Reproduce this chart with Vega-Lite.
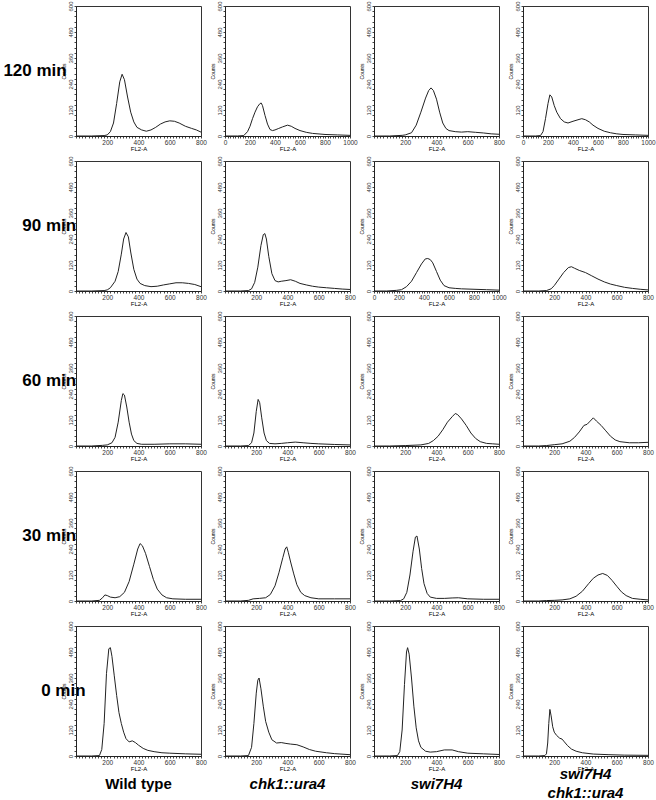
{
  "$schema": "https://vega.github.io/schema/vega-lite/v6.json",
  "padding": {"left": 3, "top": 0, "right": 0, "bottom": 0},
  "background": "white",
  "datasets": {
    "h": [
      {"t":"120 min","g":"Wild type","x":0,"y":0},{"t":"120 min","g":"Wild type","x":100,"y":0},{"t":"120 min","g":"Wild type","x":180,"y":2},{"t":"120 min","g":"Wild type","x":200,"y":5},{"t":"120 min","g":"Wild type","x":220,"y":20},{"t":"120 min","g":"Wild type","x":240,"y":60},{"t":"120 min","g":"Wild type","x":260,"y":150},{"t":"120 min","g":"Wild type","x":280,"y":250},{"t":"120 min","g":"Wild type","x":295,"y":285},{"t":"120 min","g":"Wild type","x":310,"y":260},{"t":"120 min","g":"Wild type","x":330,"y":180},{"t":"120 min","g":"Wild type","x":350,"y":110},{"t":"120 min","g":"Wild type","x":370,"y":65},{"t":"120 min","g":"Wild type","x":390,"y":40},{"t":"120 min","g":"Wild type","x":420,"y":28},{"t":"120 min","g":"Wild type","x":450,"y":22},{"t":"120 min","g":"Wild type","x":480,"y":28},{"t":"120 min","g":"Wild type","x":510,"y":40},{"t":"120 min","g":"Wild type","x":540,"y":55},{"t":"120 min","g":"Wild type","x":570,"y":65},{"t":"120 min","g":"Wild type","x":600,"y":70},{"t":"120 min","g":"Wild type","x":630,"y":68},{"t":"120 min","g":"Wild type","x":660,"y":60},{"t":"120 min","g":"Wild type","x":700,"y":45},{"t":"120 min","g":"Wild type","x":740,"y":35},{"t":"120 min","g":"Wild type","x":770,"y":28},{"t":"120 min","g":"Wild type","x":800,"y":18},

      {"t":"120 min","g":"chk1::ura4","x":0,"y":0},{"t":"120 min","g":"chk1::ura4","x":100,"y":0},{"t":"120 min","g":"chk1::ura4","x":150,"y":2},{"t":"120 min","g":"chk1::ura4","x":180,"y":20},{"t":"120 min","g":"chk1::ura4","x":200,"y":45},{"t":"120 min","g":"chk1::ura4","x":220,"y":80},{"t":"120 min","g":"chk1::ura4","x":240,"y":110},{"t":"120 min","g":"chk1::ura4","x":260,"y":135},{"t":"120 min","g":"chk1::ura4","x":280,"y":150},{"t":"120 min","g":"chk1::ura4","x":290,"y":152},{"t":"120 min","g":"chk1::ura4","x":300,"y":140},{"t":"120 min","g":"chk1::ura4","x":320,"y":95},{"t":"120 min","g":"chk1::ura4","x":340,"y":55},{"t":"120 min","g":"chk1::ura4","x":360,"y":30},{"t":"120 min","g":"chk1::ura4","x":380,"y":25},{"t":"120 min","g":"chk1::ura4","x":400,"y":28},{"t":"120 min","g":"chk1::ura4","x":430,"y":35},{"t":"120 min","g":"chk1::ura4","x":460,"y":42},{"t":"120 min","g":"chk1::ura4","x":500,"y":50},{"t":"120 min","g":"chk1::ura4","x":530,"y":45},{"t":"120 min","g":"chk1::ura4","x":560,"y":35},{"t":"120 min","g":"chk1::ura4","x":600,"y":25},{"t":"120 min","g":"chk1::ura4","x":650,"y":17},{"t":"120 min","g":"chk1::ura4","x":700,"y":12},{"t":"120 min","g":"chk1::ura4","x":800,"y":7},{"t":"120 min","g":"chk1::ura4","x":900,"y":5},{"t":"120 min","g":"chk1::ura4","x":1000,"y":3},

      {"t":"120 min","g":"swi7H4","x":0,"y":0},{"t":"120 min","g":"swi7H4","x":100,"y":0},{"t":"120 min","g":"swi7H4","x":180,"y":3},{"t":"120 min","g":"swi7H4","x":200,"y":5},{"t":"120 min","g":"swi7H4","x":240,"y":15},{"t":"120 min","g":"swi7H4","x":270,"y":50},{"t":"120 min","g":"swi7H4","x":300,"y":110},{"t":"120 min","g":"swi7H4","x":330,"y":175},{"t":"120 min","g":"swi7H4","x":350,"y":210},{"t":"120 min","g":"swi7H4","x":365,"y":222},{"t":"120 min","g":"swi7H4","x":380,"y":210},{"t":"120 min","g":"swi7H4","x":400,"y":170},{"t":"120 min","g":"swi7H4","x":420,"y":110},{"t":"120 min","g":"swi7H4","x":440,"y":60},{"t":"120 min","g":"swi7H4","x":460,"y":35},{"t":"120 min","g":"swi7H4","x":480,"y":25},{"t":"120 min","g":"swi7H4","x":520,"y":20},{"t":"120 min","g":"swi7H4","x":560,"y":18},{"t":"120 min","g":"swi7H4","x":600,"y":20},{"t":"120 min","g":"swi7H4","x":650,"y":17},{"t":"120 min","g":"swi7H4","x":700,"y":14},{"t":"120 min","g":"swi7H4","x":750,"y":10},{"t":"120 min","g":"swi7H4","x":800,"y":8},

      {"t":"120 min","g":"swi7H4 chk1::ura4","x":0,"y":0},{"t":"120 min","g":"swi7H4 chk1::ura4","x":100,"y":0},{"t":"120 min","g":"swi7H4 chk1::ura4","x":140,"y":2},{"t":"120 min","g":"swi7H4 chk1::ura4","x":160,"y":20},{"t":"120 min","g":"swi7H4 chk1::ura4","x":180,"y":80},{"t":"120 min","g":"swi7H4 chk1::ura4","x":200,"y":150},{"t":"120 min","g":"swi7H4 chk1::ura4","x":215,"y":190},{"t":"120 min","g":"swi7H4 chk1::ura4","x":230,"y":180},{"t":"120 min","g":"swi7H4 chk1::ura4","x":250,"y":140},{"t":"120 min","g":"swi7H4 chk1::ura4","x":270,"y":110},{"t":"120 min","g":"swi7H4 chk1::ura4","x":300,"y":80},{"t":"120 min","g":"swi7H4 chk1::ura4","x":330,"y":65},{"t":"120 min","g":"swi7H4 chk1::ura4","x":360,"y":60},{"t":"120 min","g":"swi7H4 chk1::ura4","x":400,"y":68},{"t":"120 min","g":"swi7H4 chk1::ura4","x":440,"y":75},{"t":"120 min","g":"swi7H4 chk1::ura4","x":470,"y":80},{"t":"120 min","g":"swi7H4 chk1::ura4","x":500,"y":75},{"t":"120 min","g":"swi7H4 chk1::ura4","x":530,"y":65},{"t":"120 min","g":"swi7H4 chk1::ura4","x":560,"y":50},{"t":"120 min","g":"swi7H4 chk1::ura4","x":600,"y":35},{"t":"120 min","g":"swi7H4 chk1::ura4","x":650,"y":22},{"t":"120 min","g":"swi7H4 chk1::ura4","x":700,"y":15},{"t":"120 min","g":"swi7H4 chk1::ura4","x":750,"y":10},{"t":"120 min","g":"swi7H4 chk1::ura4","x":800,"y":7},{"t":"120 min","g":"swi7H4 chk1::ura4","x":900,"y":5},{"t":"120 min","g":"swi7H4 chk1::ura4","x":1000,"y":3},

      {"t":"90 min","g":"Wild type","x":0,"y":0},{"t":"90 min","g":"Wild type","x":100,"y":0},{"t":"90 min","g":"Wild type","x":180,"y":2},{"t":"90 min","g":"Wild type","x":200,"y":5},{"t":"90 min","g":"Wild type","x":220,"y":15},{"t":"90 min","g":"Wild type","x":250,"y":45},{"t":"90 min","g":"Wild type","x":270,"y":90},{"t":"90 min","g":"Wild type","x":290,"y":170},{"t":"90 min","g":"Wild type","x":305,"y":240},{"t":"90 min","g":"Wild type","x":320,"y":270},{"t":"90 min","g":"Wild type","x":335,"y":250},{"t":"90 min","g":"Wild type","x":350,"y":180},{"t":"90 min","g":"Wild type","x":370,"y":100},{"t":"90 min","g":"Wild type","x":390,"y":55},{"t":"90 min","g":"Wild type","x":410,"y":35},{"t":"90 min","g":"Wild type","x":440,"y":25},{"t":"90 min","g":"Wild type","x":480,"y":20},{"t":"90 min","g":"Wild type","x":520,"y":22},{"t":"90 min","g":"Wild type","x":560,"y":28},{"t":"90 min","g":"Wild type","x":600,"y":33},{"t":"90 min","g":"Wild type","x":640,"y":38},{"t":"90 min","g":"Wild type","x":680,"y":38},{"t":"90 min","g":"Wild type","x":720,"y":35},{"t":"90 min","g":"Wild type","x":760,"y":30},{"t":"90 min","g":"Wild type","x":800,"y":20},

      {"t":"90 min","g":"chk1::ura4","x":0,"y":0},{"t":"90 min","g":"chk1::ura4","x":100,"y":0},{"t":"90 min","g":"chk1::ura4","x":150,"y":2},{"t":"90 min","g":"chk1::ura4","x":170,"y":10},{"t":"90 min","g":"chk1::ura4","x":190,"y":40},{"t":"90 min","g":"chk1::ura4","x":210,"y":110},{"t":"90 min","g":"chk1::ura4","x":230,"y":210},{"t":"90 min","g":"chk1::ura4","x":245,"y":260},{"t":"90 min","g":"chk1::ura4","x":255,"y":265},{"t":"90 min","g":"chk1::ura4","x":265,"y":240},{"t":"90 min","g":"chk1::ura4","x":280,"y":160},{"t":"90 min","g":"chk1::ura4","x":300,"y":80},{"t":"90 min","g":"chk1::ura4","x":320,"y":48},{"t":"90 min","g":"chk1::ura4","x":340,"y":42},{"t":"90 min","g":"chk1::ura4","x":360,"y":45},{"t":"90 min","g":"chk1::ura4","x":390,"y":48},{"t":"90 min","g":"chk1::ura4","x":420,"y":52},{"t":"90 min","g":"chk1::ura4","x":450,"y":45},{"t":"90 min","g":"chk1::ura4","x":480,"y":35},{"t":"90 min","g":"chk1::ura4","x":520,"y":28},{"t":"90 min","g":"chk1::ura4","x":560,"y":22},{"t":"90 min","g":"chk1::ura4","x":600,"y":18},{"t":"90 min","g":"chk1::ura4","x":650,"y":15},{"t":"90 min","g":"chk1::ura4","x":700,"y":12},{"t":"90 min","g":"chk1::ura4","x":750,"y":9},{"t":"90 min","g":"chk1::ura4","x":800,"y":7},

      {"t":"90 min","g":"swi7H4","x":0,"y":0},{"t":"90 min","g":"swi7H4","x":100,"y":0},{"t":"90 min","g":"swi7H4","x":180,"y":3},{"t":"90 min","g":"swi7H4","x":220,"y":6},{"t":"90 min","g":"swi7H4","x":260,"y":20},{"t":"90 min","g":"swi7H4","x":300,"y":45},{"t":"90 min","g":"swi7H4","x":340,"y":85},{"t":"90 min","g":"swi7H4","x":380,"y":125},{"t":"90 min","g":"swi7H4","x":410,"y":148},{"t":"90 min","g":"swi7H4","x":430,"y":150},{"t":"90 min","g":"swi7H4","x":450,"y":145},{"t":"90 min","g":"swi7H4","x":470,"y":130},{"t":"90 min","g":"swi7H4","x":500,"y":90},{"t":"90 min","g":"swi7H4","x":530,"y":50},{"t":"90 min","g":"swi7H4","x":560,"y":25},{"t":"90 min","g":"swi7H4","x":600,"y":15},{"t":"90 min","g":"swi7H4","x":650,"y":12},{"t":"90 min","g":"swi7H4","x":700,"y":10},{"t":"90 min","g":"swi7H4","x":800,"y":8},{"t":"90 min","g":"swi7H4","x":900,"y":6},{"t":"90 min","g":"swi7H4","x":1000,"y":4},

      {"t":"90 min","g":"swi7H4 chk1::ura4","x":0,"y":0},{"t":"90 min","g":"swi7H4 chk1::ura4","x":100,"y":0},{"t":"90 min","g":"swi7H4 chk1::ura4","x":150,"y":2},{"t":"90 min","g":"swi7H4 chk1::ura4","x":180,"y":10},{"t":"90 min","g":"swi7H4 chk1::ura4","x":200,"y":25},{"t":"90 min","g":"swi7H4 chk1::ura4","x":230,"y":55},{"t":"90 min","g":"swi7H4 chk1::ura4","x":260,"y":85},{"t":"90 min","g":"swi7H4 chk1::ura4","x":290,"y":108},{"t":"90 min","g":"swi7H4 chk1::ura4","x":310,"y":112},{"t":"90 min","g":"swi7H4 chk1::ura4","x":330,"y":105},{"t":"90 min","g":"swi7H4 chk1::ura4","x":360,"y":95},{"t":"90 min","g":"swi7H4 chk1::ura4","x":400,"y":85},{"t":"90 min","g":"swi7H4 chk1::ura4","x":440,"y":70},{"t":"90 min","g":"swi7H4 chk1::ura4","x":480,"y":55},{"t":"90 min","g":"swi7H4 chk1::ura4","x":520,"y":42},{"t":"90 min","g":"swi7H4 chk1::ura4","x":560,"y":32},{"t":"90 min","g":"swi7H4 chk1::ura4","x":600,"y":25},{"t":"90 min","g":"swi7H4 chk1::ura4","x":650,"y":17},{"t":"90 min","g":"swi7H4 chk1::ura4","x":700,"y":12},{"t":"90 min","g":"swi7H4 chk1::ura4","x":750,"y":8},{"t":"90 min","g":"swi7H4 chk1::ura4","x":800,"y":5},

      {"t":"60 min","g":"Wild type","x":0,"y":0},{"t":"60 min","g":"Wild type","x":100,"y":0},{"t":"60 min","g":"Wild type","x":170,"y":3},{"t":"60 min","g":"Wild type","x":200,"y":5},{"t":"60 min","g":"Wild type","x":230,"y":15},{"t":"60 min","g":"Wild type","x":250,"y":40},{"t":"60 min","g":"Wild type","x":270,"y":110},{"t":"60 min","g":"Wild type","x":290,"y":210},{"t":"60 min","g":"Wild type","x":300,"y":242},{"t":"60 min","g":"Wild type","x":310,"y":235},{"t":"60 min","g":"Wild type","x":325,"y":180},{"t":"60 min","g":"Wild type","x":340,"y":110},{"t":"60 min","g":"Wild type","x":355,"y":55},{"t":"60 min","g":"Wild type","x":370,"y":25},{"t":"60 min","g":"Wild type","x":390,"y":12},{"t":"60 min","g":"Wild type","x":420,"y":8},{"t":"60 min","g":"Wild type","x":500,"y":8},{"t":"60 min","g":"Wild type","x":600,"y":10},{"t":"60 min","g":"Wild type","x":700,"y":10},{"t":"60 min","g":"Wild type","x":800,"y":8},

      {"t":"60 min","g":"chk1::ura4","x":0,"y":0},{"t":"60 min","g":"chk1::ura4","x":100,"y":0},{"t":"60 min","g":"chk1::ura4","x":150,"y":2},{"t":"60 min","g":"chk1::ura4","x":170,"y":15},{"t":"60 min","g":"chk1::ura4","x":185,"y":60},{"t":"60 min","g":"chk1::ura4","x":200,"y":160},{"t":"60 min","g":"chk1::ura4","x":212,"y":215},{"t":"60 min","g":"chk1::ura4","x":222,"y":200},{"t":"60 min","g":"chk1::ura4","x":235,"y":130},{"t":"60 min","g":"chk1::ura4","x":250,"y":60},{"t":"60 min","g":"chk1::ura4","x":265,"y":25},{"t":"60 min","g":"chk1::ura4","x":285,"y":12},{"t":"60 min","g":"chk1::ura4","x":320,"y":10},{"t":"60 min","g":"chk1::ura4","x":360,"y":12},{"t":"60 min","g":"chk1::ura4","x":400,"y":15},{"t":"60 min","g":"chk1::ura4","x":450,"y":18},{"t":"60 min","g":"chk1::ura4","x":500,"y":15},{"t":"60 min","g":"chk1::ura4","x":550,"y":12},{"t":"60 min","g":"chk1::ura4","x":600,"y":10},{"t":"60 min","g":"chk1::ura4","x":700,"y":7},{"t":"60 min","g":"chk1::ura4","x":800,"y":5},

      {"t":"60 min","g":"swi7H4","x":0,"y":0},{"t":"60 min","g":"swi7H4","x":100,"y":0},{"t":"60 min","g":"swi7H4","x":200,"y":2},{"t":"60 min","g":"swi7H4","x":300,"y":5},{"t":"60 min","g":"swi7H4","x":350,"y":12},{"t":"60 min","g":"swi7H4","x":380,"y":25},{"t":"60 min","g":"swi7H4","x":410,"y":45},{"t":"60 min","g":"swi7H4","x":440,"y":75},{"t":"60 min","g":"swi7H4","x":470,"y":110},{"t":"60 min","g":"swi7H4","x":500,"y":135},{"t":"60 min","g":"swi7H4","x":520,"y":150},{"t":"60 min","g":"swi7H4","x":535,"y":145},{"t":"60 min","g":"swi7H4","x":560,"y":125},{"t":"60 min","g":"swi7H4","x":590,"y":95},{"t":"60 min","g":"swi7H4","x":620,"y":60},{"t":"60 min","g":"swi7H4","x":650,"y":35},{"t":"60 min","g":"swi7H4","x":680,"y":20},{"t":"60 min","g":"swi7H4","x":720,"y":12},{"t":"60 min","g":"swi7H4","x":760,"y":10},{"t":"60 min","g":"swi7H4","x":800,"y":8},

      {"t":"60 min","g":"swi7H4 chk1::ura4","x":0,"y":0},{"t":"60 min","g":"swi7H4 chk1::ura4","x":100,"y":0},{"t":"60 min","g":"swi7H4 chk1::ura4","x":150,"y":2},{"t":"60 min","g":"swi7H4 chk1::ura4","x":200,"y":6},{"t":"60 min","g":"swi7H4 chk1::ura4","x":250,"y":10},{"t":"60 min","g":"swi7H4 chk1::ura4","x":300,"y":22},{"t":"60 min","g":"swi7H4 chk1::ura4","x":330,"y":40},{"t":"60 min","g":"swi7H4 chk1::ura4","x":360,"y":65},{"t":"60 min","g":"swi7H4 chk1::ura4","x":390,"y":95},{"t":"60 min","g":"swi7H4 chk1::ura4","x":410,"y":100},{"t":"60 min","g":"swi7H4 chk1::ura4","x":430,"y":115},{"t":"60 min","g":"swi7H4 chk1::ura4","x":450,"y":130},{"t":"60 min","g":"swi7H4 chk1::ura4","x":470,"y":115},{"t":"60 min","g":"swi7H4 chk1::ura4","x":500,"y":95},{"t":"60 min","g":"swi7H4 chk1::ura4","x":530,"y":70},{"t":"60 min","g":"swi7H4 chk1::ura4","x":560,"y":45},{"t":"60 min","g":"swi7H4 chk1::ura4","x":590,"y":28},{"t":"60 min","g":"swi7H4 chk1::ura4","x":620,"y":20},{"t":"60 min","g":"swi7H4 chk1::ura4","x":680,"y":15},{"t":"60 min","g":"swi7H4 chk1::ura4","x":740,"y":15},{"t":"60 min","g":"swi7H4 chk1::ura4","x":800,"y":17},

      {"t":"30 min","g":"Wild type","x":0,"y":0},{"t":"30 min","g":"Wild type","x":100,"y":0},{"t":"30 min","g":"Wild type","x":150,"y":3},{"t":"30 min","g":"Wild type","x":170,"y":15},{"t":"30 min","g":"Wild type","x":185,"y":28},{"t":"30 min","g":"Wild type","x":200,"y":25},{"t":"30 min","g":"Wild type","x":220,"y":18},{"t":"30 min","g":"Wild type","x":250,"y":15},{"t":"30 min","g":"Wild type","x":280,"y":20},{"t":"30 min","g":"Wild type","x":310,"y":40},{"t":"30 min","g":"Wild type","x":340,"y":90},{"t":"30 min","g":"Wild type","x":370,"y":170},{"t":"30 min","g":"Wild type","x":395,"y":240},{"t":"30 min","g":"Wild type","x":410,"y":265},{"t":"30 min","g":"Wild type","x":425,"y":255},{"t":"30 min","g":"Wild type","x":445,"y":220},{"t":"30 min","g":"Wild type","x":470,"y":160},{"t":"30 min","g":"Wild type","x":495,"y":100},{"t":"30 min","g":"Wild type","x":520,"y":55},{"t":"30 min","g":"Wild type","x":550,"y":28},{"t":"30 min","g":"Wild type","x":580,"y":15},{"t":"30 min","g":"Wild type","x":620,"y":10},{"t":"30 min","g":"Wild type","x":700,"y":8},{"t":"30 min","g":"Wild type","x":800,"y":8},

      {"t":"30 min","g":"chk1::ura4","x":0,"y":0},{"t":"30 min","g":"chk1::ura4","x":100,"y":0},{"t":"30 min","g":"chk1::ura4","x":150,"y":3},{"t":"30 min","g":"chk1::ura4","x":180,"y":10},{"t":"30 min","g":"chk1::ura4","x":220,"y":12},{"t":"30 min","g":"chk1::ura4","x":260,"y":15},{"t":"30 min","g":"chk1::ura4","x":290,"y":30},{"t":"30 min","g":"chk1::ura4","x":320,"y":70},{"t":"30 min","g":"chk1::ura4","x":345,"y":130},{"t":"30 min","g":"chk1::ura4","x":370,"y":200},{"t":"30 min","g":"chk1::ura4","x":385,"y":240},{"t":"30 min","g":"chk1::ura4","x":395,"y":250},{"t":"30 min","g":"chk1::ura4","x":405,"y":225},{"t":"30 min","g":"chk1::ura4","x":420,"y":180},{"t":"30 min","g":"chk1::ura4","x":440,"y":125},{"t":"30 min","g":"chk1::ura4","x":460,"y":75},{"t":"30 min","g":"chk1::ura4","x":485,"y":40},{"t":"30 min","g":"chk1::ura4","x":510,"y":25},{"t":"30 min","g":"chk1::ura4","x":550,"y":15},{"t":"30 min","g":"chk1::ura4","x":600,"y":10},{"t":"30 min","g":"chk1::ura4","x":700,"y":10},{"t":"30 min","g":"chk1::ura4","x":800,"y":10},

      {"t":"30 min","g":"swi7H4","x":0,"y":0},{"t":"30 min","g":"swi7H4","x":100,"y":0},{"t":"30 min","g":"swi7H4","x":170,"y":2},{"t":"30 min","g":"swi7H4","x":190,"y":10},{"t":"30 min","g":"swi7H4","x":210,"y":40},{"t":"30 min","g":"swi7H4","x":230,"y":120},{"t":"30 min","g":"swi7H4","x":250,"y":230},{"t":"30 min","g":"swi7H4","x":265,"y":295},{"t":"30 min","g":"swi7H4","x":275,"y":300},{"t":"30 min","g":"swi7H4","x":290,"y":240},{"t":"30 min","g":"swi7H4","x":305,"y":150},{"t":"30 min","g":"swi7H4","x":320,"y":80},{"t":"30 min","g":"swi7H4","x":340,"y":35},{"t":"30 min","g":"swi7H4","x":360,"y":18},{"t":"30 min","g":"swi7H4","x":400,"y":12},{"t":"30 min","g":"swi7H4","x":450,"y":12},{"t":"30 min","g":"swi7H4","x":500,"y":14},{"t":"30 min","g":"swi7H4","x":540,"y":15},{"t":"30 min","g":"swi7H4","x":600,"y":10},{"t":"30 min","g":"swi7H4","x":700,"y":8},{"t":"30 min","g":"swi7H4","x":800,"y":8},

      {"t":"30 min","g":"swi7H4 chk1::ura4","x":0,"y":0},{"t":"30 min","g":"swi7H4 chk1::ura4","x":100,"y":0},{"t":"30 min","g":"swi7H4 chk1::ura4","x":150,"y":2},{"t":"30 min","g":"swi7H4 chk1::ura4","x":200,"y":3},{"t":"30 min","g":"swi7H4 chk1::ura4","x":250,"y":5},{"t":"30 min","g":"swi7H4 chk1::ura4","x":300,"y":10},{"t":"30 min","g":"swi7H4 chk1::ura4","x":340,"y":22},{"t":"30 min","g":"swi7H4 chk1::ura4","x":380,"y":45},{"t":"30 min","g":"swi7H4 chk1::ura4","x":420,"y":80},{"t":"30 min","g":"swi7H4 chk1::ura4","x":450,"y":105},{"t":"30 min","g":"swi7H4 chk1::ura4","x":480,"y":120},{"t":"30 min","g":"swi7H4 chk1::ura4","x":510,"y":127},{"t":"30 min","g":"swi7H4 chk1::ura4","x":540,"y":118},{"t":"30 min","g":"swi7H4 chk1::ura4","x":570,"y":95},{"t":"30 min","g":"swi7H4 chk1::ura4","x":600,"y":68},{"t":"30 min","g":"swi7H4 chk1::ura4","x":630,"y":42},{"t":"30 min","g":"swi7H4 chk1::ura4","x":660,"y":25},{"t":"30 min","g":"swi7H4 chk1::ura4","x":700,"y":12},{"t":"30 min","g":"swi7H4 chk1::ura4","x":750,"y":8},{"t":"30 min","g":"swi7H4 chk1::ura4","x":800,"y":5},

      {"t":"0 min","g":"Wild type","x":0,"y":0},{"t":"0 min","g":"Wild type","x":100,"y":0},{"t":"0 min","g":"Wild type","x":150,"y":2},{"t":"0 min","g":"Wild type","x":165,"y":30},{"t":"0 min","g":"Wild type","x":180,"y":150},{"t":"0 min","g":"Wild type","x":195,"y":380},{"t":"0 min","g":"Wild type","x":210,"y":495},{"t":"0 min","g":"Wild type","x":220,"y":500},{"t":"0 min","g":"Wild type","x":230,"y":460},{"t":"0 min","g":"Wild type","x":245,"y":370},{"t":"0 min","g":"Wild type","x":260,"y":280},{"t":"0 min","g":"Wild type","x":275,"y":200},{"t":"0 min","g":"Wild type","x":290,"y":150},{"t":"0 min","g":"Wild type","x":305,"y":110},{"t":"0 min","g":"Wild type","x":320,"y":80},{"t":"0 min","g":"Wild type","x":340,"y":65},{"t":"0 min","g":"Wild type","x":360,"y":70},{"t":"0 min","g":"Wild type","x":380,"y":62},{"t":"0 min","g":"Wild type","x":400,"y":50},{"t":"0 min","g":"Wild type","x":430,"y":35},{"t":"0 min","g":"Wild type","x":460,"y":26},{"t":"0 min","g":"Wild type","x":500,"y":20},{"t":"0 min","g":"Wild type","x":550,"y":15},{"t":"0 min","g":"Wild type","x":600,"y":13},{"t":"0 min","g":"Wild type","x":700,"y":10},{"t":"0 min","g":"Wild type","x":800,"y":8},

      {"t":"0 min","g":"chk1::ura4","x":0,"y":0},{"t":"0 min","g":"chk1::ura4","x":100,"y":0},{"t":"0 min","g":"chk1::ura4","x":150,"y":2},{"t":"0 min","g":"chk1::ura4","x":170,"y":40},{"t":"0 min","g":"chk1::ura4","x":185,"y":150},{"t":"0 min","g":"chk1::ura4","x":200,"y":290},{"t":"0 min","g":"chk1::ura4","x":210,"y":350},{"t":"0 min","g":"chk1::ura4","x":218,"y":360},{"t":"0 min","g":"chk1::ura4","x":230,"y":310},{"t":"0 min","g":"chk1::ura4","x":245,"y":230},{"t":"0 min","g":"chk1::ura4","x":260,"y":160},{"t":"0 min","g":"chk1::ura4","x":280,"y":110},{"t":"0 min","g":"chk1::ura4","x":300,"y":75},{"t":"0 min","g":"chk1::ura4","x":330,"y":60},{"t":"0 min","g":"chk1::ura4","x":360,"y":62},{"t":"0 min","g":"chk1::ura4","x":390,"y":58},{"t":"0 min","g":"chk1::ura4","x":420,"y":55},{"t":"0 min","g":"chk1::ura4","x":460,"y":52},{"t":"0 min","g":"chk1::ura4","x":500,"y":42},{"t":"0 min","g":"chk1::ura4","x":540,"y":30},{"t":"0 min","g":"chk1::ura4","x":580,"y":22},{"t":"0 min","g":"chk1::ura4","x":650,"y":15},{"t":"0 min","g":"chk1::ura4","x":700,"y":11},{"t":"0 min","g":"chk1::ura4","x":800,"y":6},

      {"t":"0 min","g":"swi7H4","x":0,"y":0},{"t":"0 min","g":"swi7H4","x":100,"y":0},{"t":"0 min","g":"swi7H4","x":150,"y":2},{"t":"0 min","g":"swi7H4","x":165,"y":20},{"t":"0 min","g":"swi7H4","x":180,"y":120},{"t":"0 min","g":"swi7H4","x":195,"y":330},{"t":"0 min","g":"swi7H4","x":208,"y":480},{"t":"0 min","g":"swi7H4","x":215,"y":500},{"t":"0 min","g":"swi7H4","x":225,"y":470},{"t":"0 min","g":"swi7H4","x":240,"y":360},{"t":"0 min","g":"swi7H4","x":255,"y":230},{"t":"0 min","g":"swi7H4","x":270,"y":130},{"t":"0 min","g":"swi7H4","x":285,"y":70},{"t":"0 min","g":"swi7H4","x":300,"y":40},{"t":"0 min","g":"swi7H4","x":330,"y":22},{"t":"0 min","g":"swi7H4","x":360,"y":18},{"t":"0 min","g":"swi7H4","x":400,"y":20},{"t":"0 min","g":"swi7H4","x":450,"y":28},{"t":"0 min","g":"swi7H4","x":500,"y":28},{"t":"0 min","g":"swi7H4","x":540,"y":20},{"t":"0 min","g":"swi7H4","x":600,"y":13},{"t":"0 min","g":"swi7H4","x":700,"y":10},{"t":"0 min","g":"swi7H4","x":800,"y":7},

      {"t":"0 min","g":"swi7H4 chk1::ura4","x":0,"y":0},{"t":"0 min","g":"swi7H4 chk1::ura4","x":100,"y":0},{"t":"0 min","g":"swi7H4 chk1::ura4","x":140,"y":2},{"t":"0 min","g":"swi7H4 chk1::ura4","x":150,"y":10},{"t":"0 min","g":"swi7H4 chk1::ura4","x":158,"y":60},{"t":"0 min","g":"swi7H4 chk1::ura4","x":165,"y":150},{"t":"0 min","g":"swi7H4 chk1::ura4","x":172,"y":215},{"t":"0 min","g":"swi7H4 chk1::ura4","x":180,"y":185},{"t":"0 min","g":"swi7H4 chk1::ura4","x":190,"y":135},{"t":"0 min","g":"swi7H4 chk1::ura4","x":200,"y":110},{"t":"0 min","g":"swi7H4 chk1::ura4","x":215,"y":95},{"t":"0 min","g":"swi7H4 chk1::ura4","x":235,"y":82},{"t":"0 min","g":"swi7H4 chk1::ura4","x":250,"y":78},{"t":"0 min","g":"swi7H4 chk1::ura4","x":265,"y":65},{"t":"0 min","g":"swi7H4 chk1::ura4","x":285,"y":48},{"t":"0 min","g":"swi7H4 chk1::ura4","x":310,"y":32},{"t":"0 min","g":"swi7H4 chk1::ura4","x":340,"y":22},{"t":"0 min","g":"swi7H4 chk1::ura4","x":380,"y":15},{"t":"0 min","g":"swi7H4 chk1::ura4","x":450,"y":9},{"t":"0 min","g":"swi7H4 chk1::ura4","x":550,"y":6},{"t":"0 min","g":"swi7H4 chk1::ura4","x":650,"y":4},{"t":"0 min","g":"swi7H4 chk1::ura4","x":800,"y":3}
    ]
  },
  "data": {"name": "h"},
  "facet": {
    "row": {
      "field": "t", "type": "nominal",
      "sort": ["120 min", "90 min", "60 min", "30 min", "0 min"],
      "header": {
        "title": null, "labelOrient": "left", "labelAngle": 0, "labelAlign": "right",
        "labelFont": "Liberation Sans", "labelFontSize": 17, "labelFontWeight": "bold",
        "labelColor": "black", "labelPadding": -70
      }
    },
    "column": {
      "field": "g", "type": "nominal",
      "sort": ["Wild type", "chk1::ura4", "swi7H4", "swi7H4 chk1::ura4"],
      "header": {
        "title": null, "labelOrient": "bottom",
        "labelBaseline": {"expr": "parent['g'] == 'swi7H4 chk1::ura4' ? 'line-bottom' : 'middle'"},
        "labelFont": "Liberation Sans", "labelFontSize": 15, "labelFontWeight": "bold",
        "labelFontStyle": {"expr": "parent['g'] == 'Wild type' ? 'normal' : 'italic'"},
        "labelColor": "black", "labelPadding": 12, "labelLineHeight": 19,
        "labelExpr": "datum.value == 'swi7H4 chk1::ura4' ? ['swi7H4', 'chk1::ura4'] : datum.value"
      }
    }
  },
  "spacing": {"row": 3, "column": 0},
  "resolve": {"scale": {"x": "independent"}, "axis": {"x": "independent", "y": "independent"}},
  "spec": {
    "width": 125,
    "height": 130,
    "mark": {"type": "line", "color": "#222", "strokeWidth": 1, "interpolate": "linear"},
    "encoding": {
      "x": {
        "field": "x", "type": "quantitative",
        "scale": {"nice": false, "zero": true},
        "axis": {
          "title": "FL2-A", "titleFontSize": 6, "titleFont": "Liberation Sans", "titleFontWeight": "normal", "titlePadding": 0,
          "labelFontSize": 6.5, "labelFont": "Liberation Sans", "labelPadding": 1, "labelColor": "#333", "format": "d",
          "tickCount": 40, "tickSize": 2, "tickColor": "#444", "domainColor": "#222",
          "labelOverlap": false, "labelFlush": false, "grid": false,
          "labelExpr": "datum.value % 200 != 0 ? '' : (datum.value == 0 && domain('child_x')[1] < 900 ? '' : datum.label)"
        }
      },
      "y": {
        "field": "y", "type": "quantitative",
        "scale": {"domain": [0, 600], "nice": false},
        "axis": {
          "title": "Counts", "titleFontSize": 5, "titleFont": "Liberation Sans", "titleFontWeight": "normal", "titlePadding": 1,
          "values": [0,24,48,72,96,120,144,168,192,216,240,264,288,312,336,360,384,408,432,456,480,504,528,552,576,600],
          "labelExpr": "datum.value % 120 == 0 ? datum.label : ''",
          "labelAngle": -90, "labelAlign": "center", "labelBaseline": "bottom",
          "labelFontSize": 6, "labelFont": "Liberation Sans", "labelPadding": 1, "labelColor": "#333",
          "tickSize": 2, "tickColor": "#444", "domainColor": "#222",
          "labelOverlap": false, "labelFlush": false, "grid": false
        }
      }
    }
  },
  "config": {
    "view": {"stroke": "#333", "strokeWidth": 1},
    "font": "Liberation Sans"
  }
}
